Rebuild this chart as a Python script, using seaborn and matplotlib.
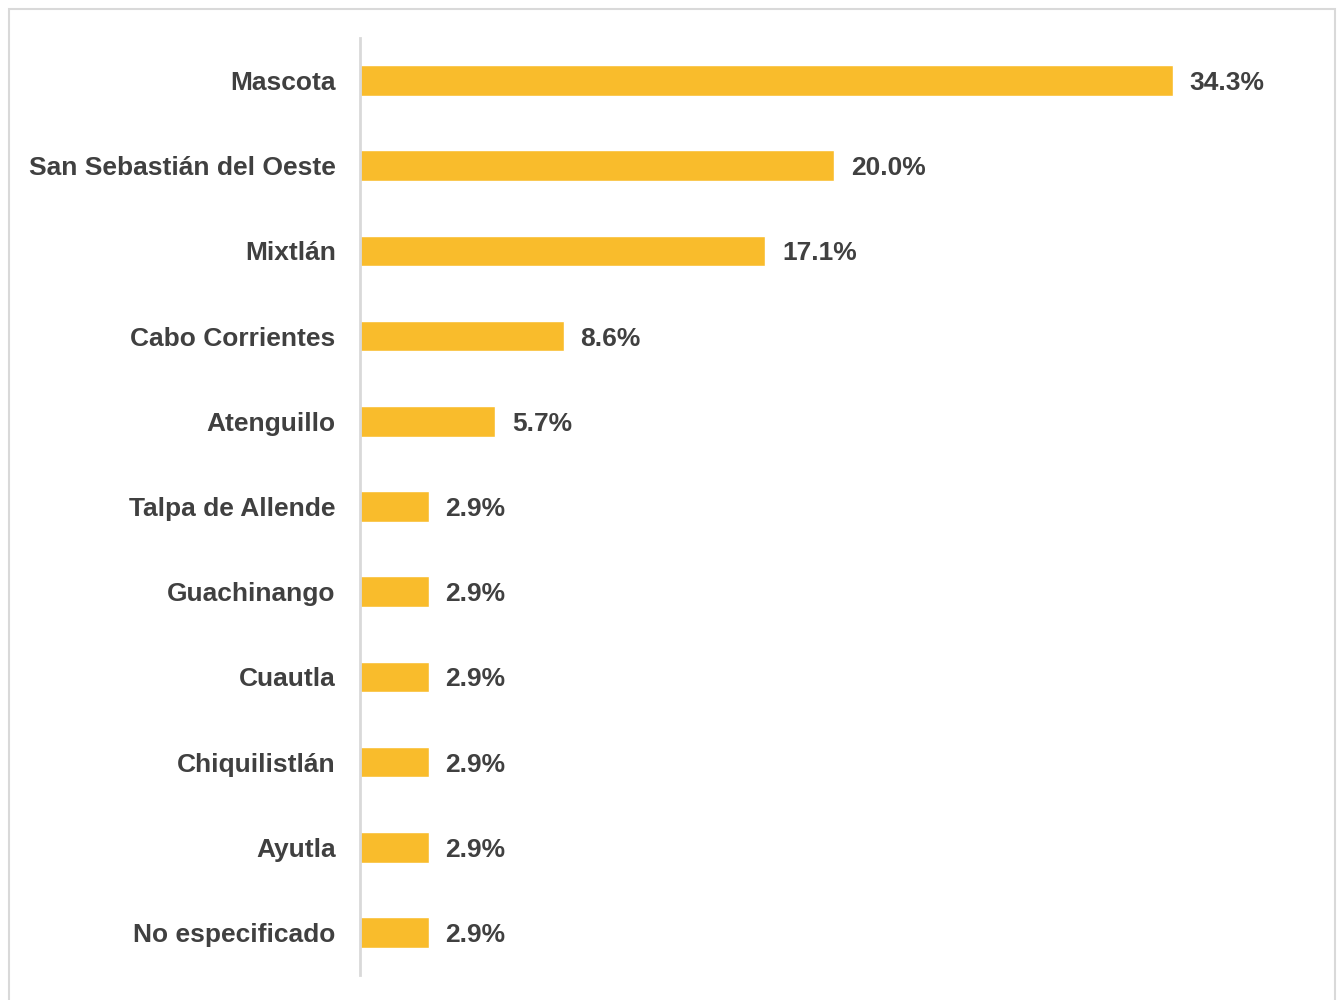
import matplotlib
matplotlib.use("Agg")
import matplotlib.pyplot as plt
import seaborn as sns
import pandas as pd
from matplotlib.patches import Rectangle

municipios = ["Mascota", "San Sebastián del Oeste", "Mixtlán", "Cabo Corrientes",
              "Atenguillo", "Talpa de Allende", "Guachinango", "Cuautla",
              "Chiquilistlán", "Ayutla", "No especificado"]
porcentajes = [34.3, 20.0, 17.1, 8.6, 5.7, 2.9, 2.9, 2.9, 2.9, 2.9, 2.9]

df = pd.DataFrame({"municipio": municipios, "pct": porcentajes})

sns.set_theme(style="white")
plt.rcParams['font.family'] = ['Liberation Sans', 'DejaVu Sans']

fig = plt.figure(figsize=(13.38, 10), dpi=100)
ax = fig.add_axes([360/1338, 0.025, 948/1338, 0.937])

sns.barplot(data=df, x="pct", y="municipio", color="#F9BC2C", saturation=1,
            width=0.36, ax=ax, orient="h")

ax.set_xlim(0, 40)
ax.set_ylim(10.5, -0.5)
ax.set_xlabel("")
ax.set_ylabel("")
ax.set_xticks([])
for s in ["top", "right", "bottom"]:
    ax.spines[s].set_visible(False)
ax.spines["left"].set_color("#D9D9D9")
ax.spines["left"].set_linewidth(2)
ax.tick_params(axis="y", length=0, pad=17.5)
for lbl in ax.get_yticklabels():
    lbl.set_fontsize(19)
    lbl.set_fontweight("bold")
    lbl.set_color("#404040")
    lbl.set_va("center_baseline")

for cont in ax.containers:
    texts = ax.bar_label(cont, labels=[f"{v:.1f}%" for v in porcentajes], padding=12,
                         fontsize=19, fontweight="bold", color="#404040")
    for t in texts:
        t.set_va("center_baseline")

fig.patches.append(Rectangle((9/1338, -0.01), 1326/1338, 0.001 + 0.999 - 9/1000 + 0.01,
                             transform=fig.transFigure, fill=False,
                             edgecolor="#D9D9D9", linewidth=1.5))

fig.savefig("out.png", dpi=100)
